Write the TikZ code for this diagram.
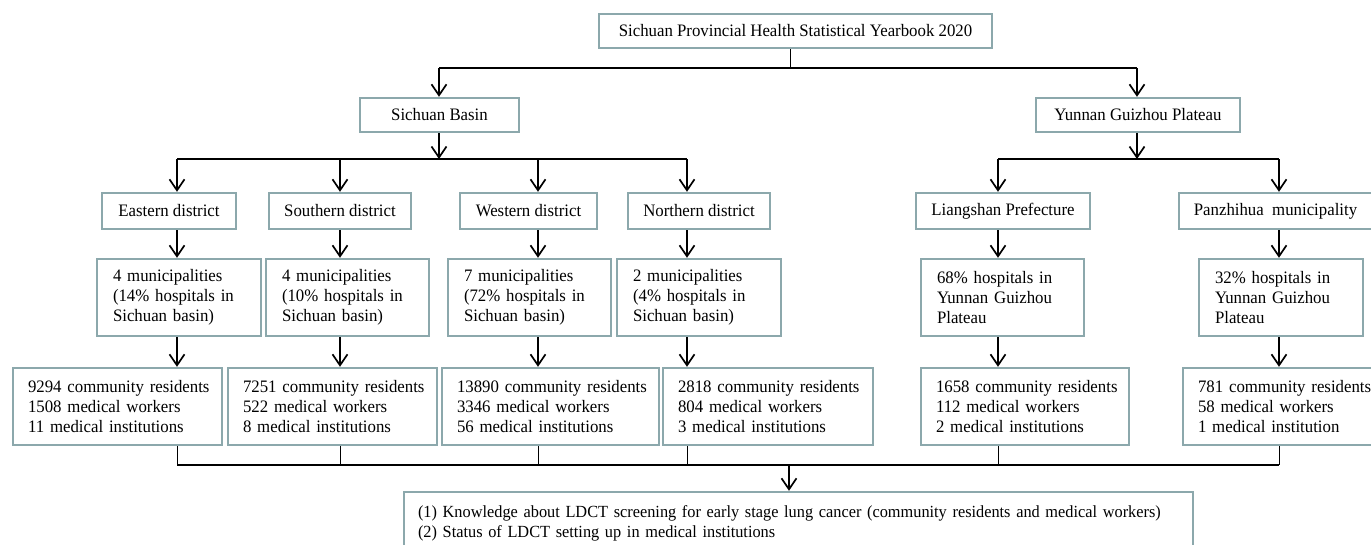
\documentclass[tikz,border=0pt]{standalone}
\usepackage{fontspec}
\setmainfont[FakeStretch=0.96]{Liberation Serif}
\usetikzlibrary{arrows.meta}
\definecolor{bordc}{RGB}{140,168,172}
\newcommand\lpad[1]{\leftskip=#1pt\relax}
\begin{document}
\begin{tikzpicture}[x=1pt,y=-1pt,
  box/.style={draw=bordc, line width=2.4pt, fill=white, inner sep=0pt,
    font=\fontsize{17.5}{20}\selectfont, align=center},
  lbox/.style={box, align=left, inner xsep=0pt, text width=#1},
  arr/.style={line width=1.7pt, -{Straight Barb[length=11pt,width=15pt,line width=1.7pt]}},
  ln/.style={line width=1.7pt},
  lnb/.style={line width=1.4pt},
  thinln/.style={line width=0.9pt}]
\useasboundingbox (0,0) rectangle (1371,544);
% coordinates of junctions
\coordinate (tj) at (790,68);
\coordinate (tb) at (439,68);
\coordinate (ty) at (1137,68);
\coordinate (c1) at (177,159);
\coordinate (c2) at (340,159);
\coordinate (c3) at (538,159);
\coordinate (c4) at (687,159);
\coordinate (c5) at (998,159);
\coordinate (c6) at (1279,159);
\coordinate (jb) at (789,465);
% level 0 and 1
\node[box, minimum width=393, minimum height=34] (top) at (795.5,31) {Sichuan Provincial Health Statistical Yearbook 2020};
\node[box, minimum width=159, minimum height=34] (basin) at (439.5,115) {Sichuan Basin};
\node[box, minimum width=204, minimum height=34] (yg) at (1138,115) {Yunnan Guizhou Plateau};
% districts
\node[box, minimum width=134, minimum height=36] (dE) at (169,211) {Eastern district};
\node[box, minimum width=142, minimum height=36] (dS) at (340,211) {Southern district};
\node[box, minimum width=137, minimum height=36] (dW) at (528.5,211) {Western district};
\node[box, minimum width=142, minimum height=36] (dN) at (699,211) {Northern district};
\node[box, minimum width=174, minimum height=36] (dL) at (1003,211) {Liangshan Prefecture};
\node[box, minimum width=193, minimum height=36] (dP) at (1275.5,211) {Panzhihua~ municipality};
% municipalities
\node[lbox=164pt, minimum height=77] (mE) at (179,297.5) {\lpad{16}4 municipalities\\(14\% hospitals in\\Sichuan basin)\par};
\node[lbox=163pt, minimum height=77] (mS) at (347.5,297.5) {\lpad{16}4 municipalities\\(10\% hospitals in\\Sichuan basin)\par};
\node[lbox=163pt, minimum height=77] (mW) at (529.5,297.5) {\lpad{16}7 municipalities\\(72\% hospitals in\\Sichuan basin)\par};
\node[lbox=164pt, minimum height=77] (mN) at (699,297.5) {\lpad{16}2 municipalities\\(4\% hospitals in\\Sichuan basin)\par};
\node[lbox=163pt, minimum height=77] (mL) at (1002.5,297.5) {\lpad{16}68\% hospitals in\\Yunnan Guizhou\\Plateau\par};
\node[lbox=164pt, minimum height=77] (mP) at (1281,297.5) {\lpad{16}32\% hospitals in\\Yunnan Guizhou\\Plateau\par};
% participants
\node[lbox=209pt, minimum height=77] (rE) at (117.5,406.5) {\lpad{15}9294 community residents\\1508 medical workers\\11 medical institutions\par};
\node[lbox=209pt, minimum height=77] (rS) at (332.5,406.5) {\lpad{15}7251 community residents\\522 medical workers\\8 medical institutions\par};
\node[lbox=217pt, minimum height=77] (rW) at (550.5,406.5) {\lpad{15}13890 community residents\\3346 medical workers\\56 medical institutions\par};
\node[lbox=210pt, minimum height=77] (rN) at (768,406.5) {\lpad{15}2818 community residents\\804 medical workers\\3 medical institutions\par};
\node[lbox=208pt, minimum height=77] (rL) at (1025,406.5) {\lpad{15}1658 community residents\\112 medical workers\\2 medical institutions\par};
\node[lbox=190pt, minimum height=77] (rP) at (1278,406.5) {\lpad{15}781 community residents\\58 medical workers\\1 medical institution\par};
% outcome
\node[lbox=789pt, minimum height=62, font=\fontsize{17}{20}\selectfont] (bot) at (798.5,523) {\lpad{14}(1) Knowledge about LDCT screening for early stage lung cancer (community residents and medical workers)\\(2) Status of LDCT setting up in medical institutions\par};
% connectors top
\draw[thinln] (top.south -| tj) -- (tj);
\draw[ln] (tb) -- (ty);
\draw[arr] (tb) -- (basin.north -| tb);
\draw[arr] (ty) -- (yg.north -| ty);
\draw[arr] (basin.south -| tb) -- (tb |- c1);
\draw[arr] (yg.south -| ty) -- (ty |- c5);
\draw[ln] (c1) -- (c4);
\draw[ln] (c5) -- (c6);
% column arrows
\foreach \c/\d/\m/\r in {c1/dE/mE/rE, c2/dS/mS/rS, c3/dW/mW/rW, c4/dN/mN/rN, c5/dL/mL/rL, c6/dP/mP/rP} {
  \draw[arr] (\c) -- (\d.north -| \c);
  \draw[arr] (\d.south -| \c) -- (\m.north -| \c);
  \draw[arr] (\m.south -| \c) -- (\r.north -| \c);
  \draw[thinln] (\r.south -| \c) -- (\c |- jb);
}
\draw[lnb] (c1 |- jb) -- (c6 |- jb);
\draw[arr] (jb) -- (bot.north -| jb);
\end{tikzpicture}
\end{document}
